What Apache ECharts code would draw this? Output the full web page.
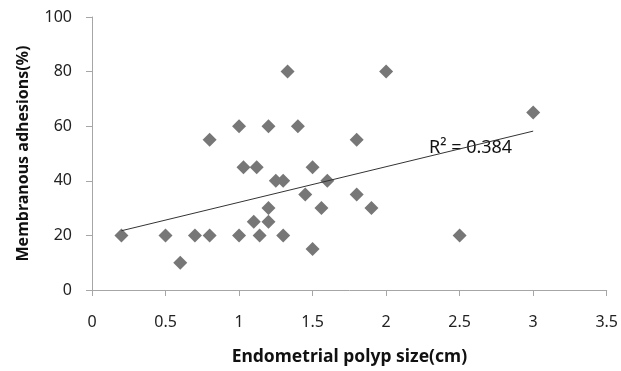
<!DOCTYPE html>
<html>
<head>
<meta charset="utf-8">
<script src="https://cdn.jsdelivr.net/npm/echarts@6/dist/echarts.min.js"></script>
<style>
  html, body { margin: 0; padding: 0; background: #fff; }
  #chart { width: 621px; height: 371px; }
</style>
</head>
<body>
<div id="chart"></div>
<script>
// polyp size (cm) and membranous adhesions (%)
const sizes = [0.2, 0.5, 0.6, 0.7, 0.8, 0.8, 1.0, 1.0, 1.03, 1.1, 1.12, 1.14, 1.2, 1.2, 1.2, 1.25,
  1.3, 1.3, 1.33, 1.4, 1.45, 1.5, 1.5, 1.56, 1.6, 1.8, 1.8, 1.9, 2.0, 2.5, 3.0];
const adhesions = [20, 20, 10, 20, 20, 55, 20, 60, 45, 25, 45, 20, 30, 25, 60, 40,
  40, 20, 80, 60, 35, 45, 15, 30, 40, 55, 35, 30, 80, 20, 65];

// linear trend line ends
const trendX = [0.2, 3.0];
const trendY = [21.7, 58.2];
const rSquared = '0.384';

const points = sizes.map((x, i) => [x, adhesions[i]]);
const trend = trendX.map((x, i) => [x, trendY[i]]);

const chart = echarts.init(document.getElementById('chart'));
const font = '"Noto Sans", "Open Sans", sans-serif';
chart.setOption({
  animation: false,
  textStyle: { fontFamily: font },
  grid: { left: 92, right: 10, top: 17, bottom: 77 },
  xAxis: {
    type: 'value', min: 0, max: 3.5, interval: 0.5,
    name: 'Endometrial polyp size(cm)', nameLocation: 'middle', nameGap: 58,
    nameTextStyle: { fontSize: 17.5, fontWeight: 'bold', color: '#111', fontFamily: font },
    axisLine: { lineStyle: { color: '#a6a6a6' } },
    axisTick: { show: true, length: 6, lineStyle: { color: '#a6a6a6' } },
    axisLabel: { fontSize: 16, color: '#222', margin: 24, fontFamily: font },
    splitLine: { show: false }
  },
  yAxis: {
    type: 'value', min: 0, max: 100, interval: 20,
    name: 'Membranous adhesions(%)', nameLocation: 'middle', nameGap: 61,
    nameTextStyle: { fontSize: 16, fontWeight: 'bold', color: '#111', fontFamily: font },
    axisLine: { show: true, lineStyle: { color: '#a6a6a6' } },
    axisTick: { show: true, length: 6, lineStyle: { color: '#a6a6a6' } },
    axisLabel: { fontSize: 16, color: '#222', margin: 20, fontFamily: font },
    splitLine: { show: false }
  },
  series: [
    {
      type: 'scatter', data: points, symbol: 'diamond', symbolSize: 14,
      itemStyle: { color: '#777', opacity: 1 }
    },
    {
      type: 'line', data: trend, showSymbol: false, symbol: 'none',
      lineStyle: { color: '#333', width: 1 }, z: 3
    }
  ],
  graphic: [{
    type: 'text', left: 429, top: 139,
    style: { text: 'R² = ' + rSquared, fontSize: 18, fill: '#111', fontFamily: font }
  }]
});
</script>
</body>
</html>
